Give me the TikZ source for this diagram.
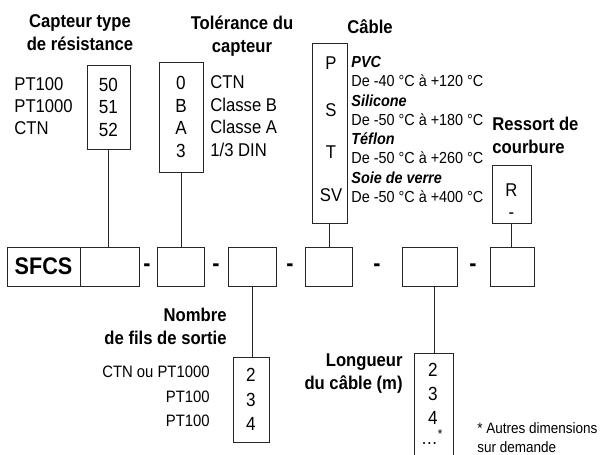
\documentclass[tikz,border=0pt]{standalone}
\usepackage{fontspec}
\setmainfont{Liberation Sans}[FakeStretch=0.9]
\usetikzlibrary{positioning}

\begin{document}
\begin{tikzpicture}[x=1pt,y=-1pt,
    every node/.style={inner sep=0pt},
    line width=0.8pt,draw=black!85,
    codebox/.style={draw,minimum height=39pt},
    optbox/.style={draw,align=center,font=\fontsize{19}{22.5}\selectfont},
    titre/.style={font=\bfseries\fontsize{18.5}{23}\selectfont},
    lbl/.style={font=\fontsize{18.5}{22}\selectfont},
    petit/.style={font=\fontsize{16}{19.3}\selectfont},
    tiret/.style={font=\bfseries\fontsize{24}{26}\selectfont}]
  \useasboundingbox (0,0) rectangle (600,455);

  % ligne du code
  \node[codebox,minimum width=73pt,font=\bfseries\fontsize{24}{26}\selectfont] (sfcs) at (43.5,266.5) {SFCS};
  \node[codebox,minimum width=59pt,right=0pt of sfcs] (c1) {};
  \node[codebox,minimum width=47pt] (c2) at (180.5,266.5) {};
  \node[codebox,minimum width=48pt] (c3) at (252,266.5) {};
  \node[codebox,minimum width=47pt] (c4) at (328.5,266.5) {};
  \node[codebox,minimum width=55pt] (c5) at (429.5,266.5) {};
  \node[codebox,minimum width=44pt] (c6) at (512,266.5) {};
  \node[tiret] (d1) at (147,268) {-};
  \node[tiret] (d2) at (216,268) {-};
  \node[tiret] (d3) at (290,268) {-};
  \node[tiret] (d4) at (377,268) {-};
  \node[tiret] (d5) at (473,268) {-};

  % capteur
  \node[titre,align=center] (capttit) at (80,33) {Capteur type\\de résistance};
  \node[optbox,minimum width=43pt,minimum height=84pt] (capt) at (108.5,107) {50\\51\\52};
  \node[lbl,anchor=west,align=left] (captlbl) at (14,106) {PT100\\PT1000\\CTN};

  % tolerance
  \node[titre,align=center] (toltit) at (242,36) {Tolérance du\\capteur};
  \node[optbox,minimum width=44pt,minimum height=110pt] (tol) at (181,117) {0\\B\\A\\3};
  \node[lbl,anchor=west,align=left,font=\fontsize{18.5}{22.7}\selectfont] (tollbl) at (210,116) {CTN\\Classe B\\Classe A\\1/3 DIN};

  % cable
  \node[titre] (cabtit) at (370,27) {Câble};
  \node[draw,minimum width=35pt,minimum height=180pt] (cab) at (329.5,133) {};
  \node[lbl] (cabp) at (331,63) {P};
  \node[lbl] (cabs) at (331,110) {S};
  \node[lbl] (cabt) at (331,152) {T};
  \node[lbl] (cabsv) at (331,195) {SV};
  \node[petit,anchor=west,align=left] (cabtxt) at (351,129.5) {\textbf{\textit{PVC}}\\De -40 °C à +120 °C\\\textbf{\textit{Silicone}}\\De -50 °C à +180 °C\\\textbf{\textit{Téflon}}\\De -50 °C à +260 °C\\\textbf{\textit{Soie de verre}}\\De -50 °C à +400 °C};

  % ressort
  \node[titre,anchor=west,align=left] (restit) at (492,135) {Ressort de\\courbure};
  \node[draw,minimum width=39pt,minimum height=58pt] (res) at (511.5,194) {};
  \node[lbl,align=center] (restxt) at (511.5,201) {R\\-};

  % nombre de fils
  \node[titre,anchor=east,align=right] (nbtit) at (227,326) {Nombre\\de fils de sortie};
  \node[optbox,minimum width=36pt,minimum height=85pt,font=\fontsize{19}{24.5}\selectfont] (nb) at (251,399.5) {2\\3\\4};
  \node[anchor=east,align=right,font=\fontsize{16.5}{24.5}\selectfont] (nblbl) at (210,396.5) {CTN ou PT1000\\PT100\\PT100};

  % longueur
  \node[titre,anchor=east,align=right] (lgtit) at (403,373.5) {Longueur\\du câble (m)};
  \node[minimum width=38pt,minimum height=106pt] (lg) at (434,407) {};
  \draw (lg.south west) |- (lg.north east) -- (lg.south east);
  \node[lbl,align=center,font=\fontsize{19}{24}\selectfont] (lgtxt) at (433,394) {2\\3\\4};
  \node[lbl] (lgetc) at (432,437) {…\textsuperscript{*}};
  \node[anchor=west,align=left,font=\fontsize{15}{19}\selectfont] (note) at (477,437.5) {* Autres dimensions\\sur demande};

  % liaisons
  \draw (capt.south) -- (capt.south |- c1.north);
  \draw (tol.south) -- (tol.south |- c2.north);
  \draw (cab.south) -- (cab.south |- c4.north);
  \draw (res.south) -- (res.south |- c6.north);
  \draw (c3.south) -- (c3.south |- nb.north);
  \draw (lg.north) -- (lg.north |- c5.south);
\end{tikzpicture}
\end{document}
